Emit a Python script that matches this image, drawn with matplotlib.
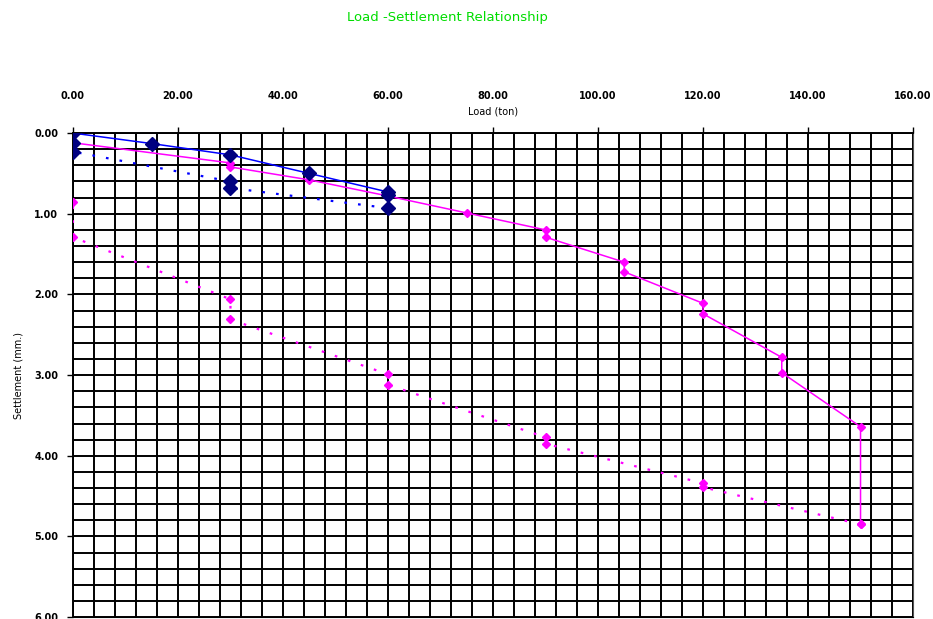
import matplotlib
matplotlib.use('Agg')
import matplotlib.pyplot as plt
from matplotlib.ticker import MultipleLocator, FormatStrFormatter

# pile 1 (blue): loading and unloading
load_b1 = [0, 15, 30, 45, 60, 60]
sett_b1 = [0.00, 0.13, 0.27, 0.50, 0.73, 0.77]
load_b2 = [60, 30, 30, 0, 0]
sett_b2 = [0.93, 0.68, 0.60, 0.23, 0.12]

# pile 2 (magenta): loading and unloading
load_m1 = [0, 30, 30, 45, 60, 75, 90, 90, 105, 105, 120, 120, 135, 135, 150, 150]
sett_m1 = [0.12, 0.37, 0.42, 0.58, 0.78, 0.99, 1.20, 1.29, 1.60, 1.72, 2.11, 2.24, 2.78, 2.97, 3.64, 4.85]
load_m2 = [150, 120, 120, 90, 90, 60, 60, 30, 30, 0, 0]
sett_m2 = [4.85, 4.39, 4.34, 3.85, 3.77, 3.12, 2.99, 2.31, 2.06, 1.29, 0.86]

fig = plt.figure(figsize=(9.33, 6.19), dpi=100)
ax = fig.add_axes([0.0782, 0.003, 0.9004, 0.782])

dots = (0, (1.2, 5))
ax.plot(load_b1, sett_b1, color='#0000FF', lw=1.1, marker='D', ms=7,
        mfc='#000080', mec='#000080', zorder=5)
ax.plot(load_b2, sett_b2, color='#0000FF', lw=1.6, ls=dots, marker='D', ms=7,
        mfc='#000080', mec='#000080', zorder=5)
ax.plot(load_m1, sett_m1, color='#FF00FF', lw=1.1, marker='D', ms=4,
        mfc='#FF00FF', mec='#FF00FF', zorder=4)
ax.plot(load_m2, sett_m2, color='#FF00FF', lw=1.6, ls=dots, marker='D', ms=4,
        mfc='#FF00FF', mec='#FF00FF', zorder=4)

ax.set_xlim(0, 160)
ax.set_ylim(6, 0)
ax.xaxis.set_major_locator(MultipleLocator(20))
ax.xaxis.set_minor_locator(MultipleLocator(4))
ax.yaxis.set_major_locator(MultipleLocator(1))
ax.yaxis.set_minor_locator(MultipleLocator(0.2))
ax.xaxis.set_major_formatter(FormatStrFormatter('%.2f'))
ax.yaxis.set_major_formatter(FormatStrFormatter('%.2f'))
ax.xaxis.tick_top()
ax.grid(True, which='both', color='black', lw=1.4)
ax.set_axisbelow(True)
ax.tick_params(axis='x', which='major', length=4, pad=19, labelsize=7, width=1)
ax.tick_params(axis='y', which='major', length=4.5, pad=6, labelsize=7, width=1)
ax.tick_params(which='minor', length=0)
for lab in ax.get_xticklabels() + ax.get_yticklabels():
    lab.set_fontweight('bold')
for s in ['left', 'top']:
    ax.spines[s].set_color('black')
    ax.spines[s].set_linewidth(1.4)
ax.spines['right'].set_color('#555555')

ax.text(0.5, 1.045, 'Load (ton)', transform=ax.transAxes, ha='center',
        va='center', fontsize=7)
ax.set_ylabel('Settlement (mm.)', fontsize=7)
ax.yaxis.set_label_coords(-0.059, 0.5)

fig.text(0.48, 0.971, 'Load -Settlement Relationship', color='#00DD00',
         ha='center', va='center', fontsize=9.5)

fig.savefig('out.png', dpi=100)
